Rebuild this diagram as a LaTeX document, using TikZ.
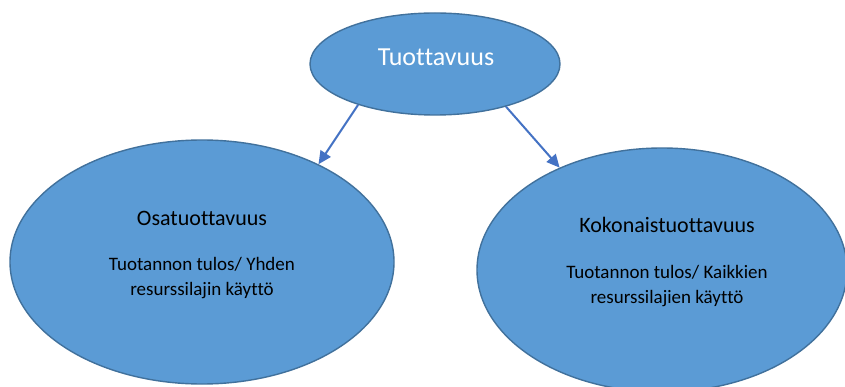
\documentclass[tikz,border=0pt]{standalone}
\usepackage{fontspec}
\setmainfont[Ligatures={NoCommon,NoContextual}]{Carlito}
\usetikzlibrary{shapes.geometric,arrows.meta}
\definecolor{bubble}{HTML}{5B9BD5}
\definecolor{bubbleedge}{HTML}{41719C}
\definecolor{link}{HTML}{4472C4}
\tikzset{
  bubble/.style={ellipse, fill=bubble, draw=bubbleedge, line width=1.4pt, inner sep=0pt},
  heading/.style={font=\fontsize{22}{26}\selectfont, text=black},
  formula/.style={font=\fontsize{19}{25}\selectfont, text=black, align=center},
  link/.style={draw=link, line width=2pt, -{Triangle[length=13pt,width=12pt]}}
}
\begin{document}
\begin{tikzpicture}[x=1pt,y=-1pt]
  \useasboundingbox (0,0) rectangle (845,387);
  \clip (0,0) rectangle (845,387);
  \fill[white] (0,0) rectangle (845,387);

  % the three ellipses
  \node[bubble, minimum width=250pt, minimum height=102pt] (top) at (435,64) {};
  \node[bubble, minimum width=384pt, minimum height=244pt] (left) at (202,262) {};
  \node[bubble, minimum width=370pt, minimum height=244pt] (right) at (662,270) {};

  % labels
  \node[font=\fontsize{26}{30}\selectfont, text=white] (toplabel) at (436,57) {Tuottavuus};
  \node[heading] (lefthead) at (202,218) {Osatuottavuus};
  \node[formula] (lefttext) at (202,278) {Tuotannon tulos/ Yhden\\resurssilajin käyttö};
  \node[heading] (righthead) at (667,225) {Kokonaistuottavuus};
  \node[formula] (righttext) at (667,286) {Tuotannon tulos/ Kaikkien\\resurssilajien käyttö};

  % connectors
  \draw[link] (top.208) -- (left.40.7);
  \draw[link] (top.329.5) -- (right.135.6);
\end{tikzpicture}
\end{document}
